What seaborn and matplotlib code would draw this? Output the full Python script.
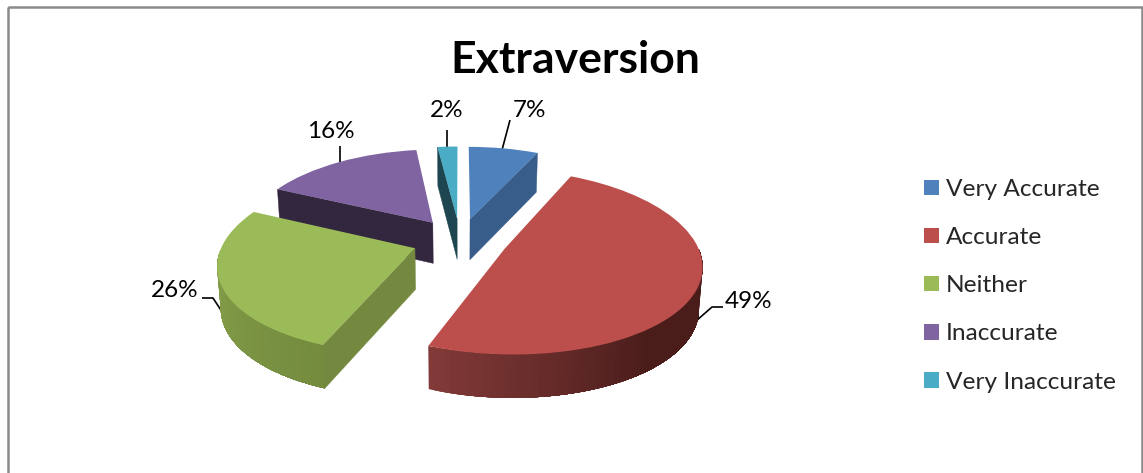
import numpy as np
import matplotlib
matplotlib.use("Agg")
import matplotlib.pyplot as plt
import seaborn as sns
from matplotlib.patches import Polygon, Rectangle
from matplotlib.transforms import Transform
from matplotlib.colors import to_rgb

# ---- data ----
TITLE = "Extraversion"
categories = ["Very Accurate", "Accurate", "Neither", "Inaccurate", "Very Inaccurate"]
values = [7, 49, 26, 16, 2]
top_colors = ["#4F81BD", "#BC4F4C", "#9BBB59", "#8064A2", "#4BACC6"]
cut_colors = ["#385D8A", "#7F3634", "#74893F", "#33263F", "#1D4650"]
rim_start = ["#385D8A", "#823A38", "#8CA950", "#33263F", "#1D4650"]
rim_end = ["#385D8A", "#4A1D1B", "#748B3E", "#33263F", "#1D4650"]
rim_speed = [1, 3, 1, 1, 1]

sns.set_theme(style="white")
plt.rcParams["font.family"] = ["Lato", "DejaVu Sans"]
palette = sns.color_palette(top_colors)

W, H = 1143, 473
fig = plt.figure(figsize=(W / 100, H / 100), dpi=100, facecolor="white")
ax = fig.add_axes([0, 0, 1, 1])

EXPLODE = 0.25
CX, CY, AX, BY, K, KX = 460.0, 240.0, 191.0, 88.0, 0.141, 0.16
BOTTOM_SHRINK = 0.985


class Tilt(Transform):
    """Perspective view of the flat pie, onto pixel-like data coordinates."""
    input_dims = output_dims = 2
    is_separable = False
    has_inverse = False

    def transform_non_affine(self, xy):
        xy = np.asarray(xy, float)
        return np.column_stack([CX + AX * xy[:, 0] / (1 + KX * xy[:, 1]),
                                CY - BY * xy[:, 1] / (1 + K * xy[:, 1])])


tilt = Tilt()


def lower(m, p):
    """Lower edge of a wall: pushed down by the depth and slightly inward."""
    d = 28 + 13 / (1 + K * m[:, 1])
    return np.column_stack([CX + (p[:, 0] - CX) * BOTTOM_SHRINK, p[:, 1] + d])


wedges, _ = ax.pie(values, colors=palette, startangle=90, counterclock=False,
                   explode=[EXPLODE] * len(values), radius=1, frame=False)
ax.set_aspect("auto")
ax.set_xlim(0, W)
ax.set_ylim(H, 0)
ax.axis("off")


def shaded_walls(wedge, i, z):
    cx, cy = wedge.center
    t1, t2 = np.radians(wedge.theta1), np.radians(wedge.theta2)
    ts = np.linspace(t1, t2, 120)
    apex = np.array([cx, cy])
    # radial cut faces first, when turned towards the viewer
    for t, nrm in ((t1, t1 - np.pi / 2), (t2, t2 + np.pi / 2)):
        if np.sin(nrm) < -1e-6:
            m = np.array([apex, apex + [np.cos(t), np.sin(t)]])
            p = tilt.transform_non_affine(m)
            q = lower(m, p)
            ax.add_patch(Polygon(np.vstack([p, q[::-1]]), closed=True, fc=cut_colors[i],
                                 ec=cut_colors[i], lw=0.3, zorder=z))
    # curved rim: each band runs on to the end of the rim, so no seams show
    vis = ts[np.sin(ts) < 0]
    if len(vis) < 2:
        return
    c0, c1 = np.array(to_rgb(rim_start[i])), np.array(to_rgb(rim_end[i]))
    m_all = apex + np.column_stack([np.cos(vis), np.sin(vis)])
    p_all = tilt.transform_non_affine(m_all)
    q_all = lower(m_all, p_all)
    for j in range(len(vis) - 1):
        f = min(1.0, rim_speed[i] * (vis[j] - t1) / (t2 - t1))
        col = c0 + (c1 - c0) * f
        ax.add_patch(Polygon(np.vstack([p_all[j:], q_all[j:][::-1]]), closed=True,
                             fc=col, ec="none", zorder=z + j * 1e-4))


order = [3, 4, 0, 2, 1]
for z, i in enumerate(order):
    shaded_walls(wedges[i], i, 2 * z + 1)
    wedges[i].set_transform(tilt + ax.transData)
    wedges[i].set_zorder(2 * z + 2)
    wedges[i].set_edgecolor("none")
    wedges[i].set_clip_on(False)

ax.set_xlim(0, W)
ax.set_ylim(H, 0)

# outer chart frame
ax.add_patch(Rectangle((8, 7), 1134, 490, fc="none", ec="#8A8A8A", lw=1.8, zorder=30))

ax.text(575, 60, TITLE, fontsize=32, fontweight="bold", color="black",
        ha="center", va="center", zorder=40)

label_pos = [(529, 110), (749, 301), (175, 290), (331, 131), (447, 110)]
leaders = [
    ([502, 510], [150, 120]),
    ([688, 712, 723], [328, 307, 307]),
    ([230, 213, 202], [324, 298, 298]),
    ([340, 340], [162, 146]),
    ([447, 447], [147, 130]),
]
for v, (x, y), (lx, ly) in zip(values, label_pos, leaders):
    ax.text(x, y, f"{v}%", fontsize=17.5, color="black", ha="center", va="center", zorder=40)
    ax.plot(lx, ly, color="black", lw=1.2, zorder=0.5, solid_capstyle="butt")

handles = [plt.Rectangle((0, 0), 1, 1, fc=c, ec="none") for c in palette]
ax.legend(handles, categories, loc="upper left", bbox_to_anchor=(924 / W, 1 - 179 / H),
          bbox_transform=fig.transFigure, frameon=False, fontsize=17.6, handlelength=0.61,
          handleheight=0.61, handletextpad=0.3, labelspacing=1.11, borderpad=0, borderaxespad=0)

fig.savefig("out.png", dpi=100, facecolor="white")
